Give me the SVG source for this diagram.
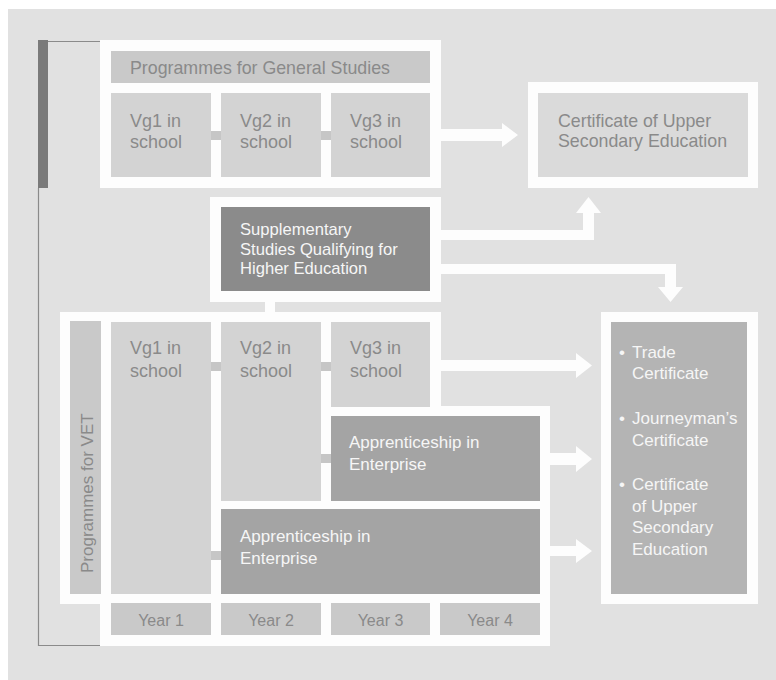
<svg xmlns="http://www.w3.org/2000/svg" width="776" height="680" viewBox="0 0 776 680">
<style>
text{font-family:"Liberation Sans",Arial,sans-serif;font-size:17px}
.dk{fill:#8a8a8a}
.lt{fill:#f6f6f6}
.frame{fill:#fdfdfd}
.hdr{fill:#c9c9c9}
.vg{fill:#d3d3d3}
.app{fill:#a4a4a4}
.conn{fill:#c6c6c6}
.arrow{fill:#fdfdfd}
.v{font-size:18px}
.yr{font-size:16px;text-anchor:middle}
</style>
<rect x="0" y="0" width="776" height="680" fill="#ffffff"/>
<rect x="8" y="9" width="768" height="671" fill="#e1e1e1"/>

<g id="bracket">
<rect x="38" y="40" width="10" height="148" fill="#7a7a7a"/>
<path d="M48,41.5 H100 M38.5,188 V645.5 H100" fill="none" stroke="#8a8a8a" stroke-width="1.2"/>
</g>

<g id="general-studies">
<rect class="frame" x="100" y="40" width="341" height="148"/>
<rect class="hdr" x="111" y="51" width="319" height="32"/>
<text class="dk" x="130" y="74" style="font-size:17.8px">Programmes for General Studies</text>
</g>
<g id="gs-vg1">
<rect class="vg" x="111" y="93" width="100" height="84"/>
<text class="dk v" x="130" y="127">Vg1 in</text>
<text class="dk v" x="130" y="148">school</text>
</g>
<g id="gs-vg2">
<rect class="vg" x="221" y="93" width="100" height="84"/>
<text class="dk v" x="240" y="127">Vg2 in</text>
<text class="dk v" x="240" y="148">school</text>
</g>
<g id="gs-vg3">
<rect class="vg" x="331" y="93" width="99" height="84"/>
<text class="dk v" x="350" y="127">Vg3 in</text>
<text class="dk v" x="350" y="148">school</text>
</g>

<g id="cert-upper-secondary">
<rect class="frame" x="528" y="82" width="230" height="106"/>
<rect x="538" y="93" width="210" height="84" fill="#dadada"/>
<text class="dk" x="558" y="127" style="font-size:17.8px">Certificate of Upper</text>
<text class="dk" x="558" y="147" style="font-size:17.8px">Secondary Education</text>
</g>

<g id="supplementary">
<rect class="frame" x="210" y="197" width="231" height="105"/>
<rect x="221" y="207" width="209" height="84" fill="#8b8b8b"/>
<text class="lt" x="240" y="235" style="font-size:16.6px">Supplementary</text>
<text class="lt" x="240" y="255" style="font-size:16.6px">Studies Qualifying for</text>
<text class="lt" x="240" y="274" style="font-size:16.6px">Higher Education</text>
</g>

<g id="vet">
<path class="frame" d="M60,312 H441 V406 H550 V646 H100 V604 H60 Z"/>
<rect class="hdr" x="70" y="321" width="31" height="273"/>
<text class="dk" transform="translate(93,573) rotate(-90)">Programmes for VET</text>
</g>
<g id="vet-vg1">
<rect class="vg" x="111" y="322" width="100" height="272"/>
<text class="dk v" x="130" y="354">Vg1 in</text>
<text class="dk v" x="130" y="377">school</text>
</g>
<g id="vet-vg2">
<rect class="vg" x="221" y="322" width="100" height="179"/>
<text class="dk v" x="240" y="354">Vg2 in</text>
<text class="dk v" x="240" y="377">school</text>
</g>
<g id="vet-vg3">
<rect class="vg" x="331" y="322" width="99" height="85"/>
<text class="dk v" x="350" y="354">Vg3 in</text>
<text class="dk v" x="350" y="377">school</text>
</g>
<g id="apprenticeship-1">
<rect class="app" x="331" y="416" width="209" height="85"/>
<text class="lt" x="349" y="448">Apprenticeship in</text>
<text class="lt" x="349" y="470">Enterprise</text>
</g>
<g id="apprenticeship-2">
<rect class="app" x="221" y="509" width="319" height="85"/>
<text class="lt" x="240" y="542">Apprenticeship in</text>
<text class="lt" x="240" y="564">Enterprise</text>
</g>
<g id="years">
<rect class="hdr" x="111" y="603" width="100" height="32"/>
<text class="dk yr" x="161" y="626">Year 1</text>
<rect class="hdr" x="221" y="603" width="100" height="32"/>
<text class="dk yr" x="271" y="626">Year 2</text>
<rect class="hdr" x="331" y="603" width="99" height="32"/>
<text class="dk yr" x="380.5" y="626">Year 3</text>
<rect class="hdr" x="440" y="603" width="100" height="32"/>
<text class="dk yr" x="490" y="626">Year 4</text>
</g>

<g id="vet-certificates">
<rect class="frame" x="601" y="312" width="157" height="292"/>
<rect x="611" y="322" width="136" height="272" fill="#b4b4b4"/>
<text class="lt" x="619" y="358">•</text>
<text class="lt" x="632" y="358">Trade</text>
<text class="lt" x="632" y="379">Certificate</text>
<text class="lt" x="619" y="424">•</text>
<text class="lt" x="632" y="424">Journeyman’s</text>
<text class="lt" x="632" y="446">Certificate</text>
<text class="lt" x="619" y="490">•</text>
<text class="lt" x="632" y="490">Certificate</text>
<text class="lt" x="632" y="512">of Upper</text>
<text class="lt" x="632" y="533">Secondary</text>
<text class="lt" x="632" y="555">Education</text>
</g>

<g id="connectors">
<rect class="conn" x="211" y="131" width="10" height="9"/>
<rect class="conn" x="321" y="131" width="10" height="9"/>
<rect class="conn" x="211" y="362" width="10" height="9"/>
<rect class="conn" x="321" y="362" width="10" height="9"/>
<rect class="conn" x="321" y="454" width="10" height="9"/>
<rect class="conn" x="211" y="551" width="10" height="9"/>
<rect class="arrow" x="265" y="301" width="10" height="12"/>
<path class="arrow" d="M441,129 H502 V123 L518,135 L502,147 V141 H441 Z"/>
<path class="arrow" d="M441,230 H583 V213 H576 L588.5,197 L601,213 H594 V240 H441 Z"/>
<path class="arrow" d="M441,264 H676 V287 H683 L670.5,302 L658,287 H665 V274 H441 Z"/>
<path class="arrow" d="M441,360 H576 V353 L592,365.5 L576,378 V371 H441 Z"/>
<path class="arrow" d="M550,453 H576 V446 L592,459 L576,472 V465 H550 Z"/>
<path class="arrow" d="M550,546 H576 V539 L592,551 L576,563 V556 H550 Z"/>
</g>
</svg>
